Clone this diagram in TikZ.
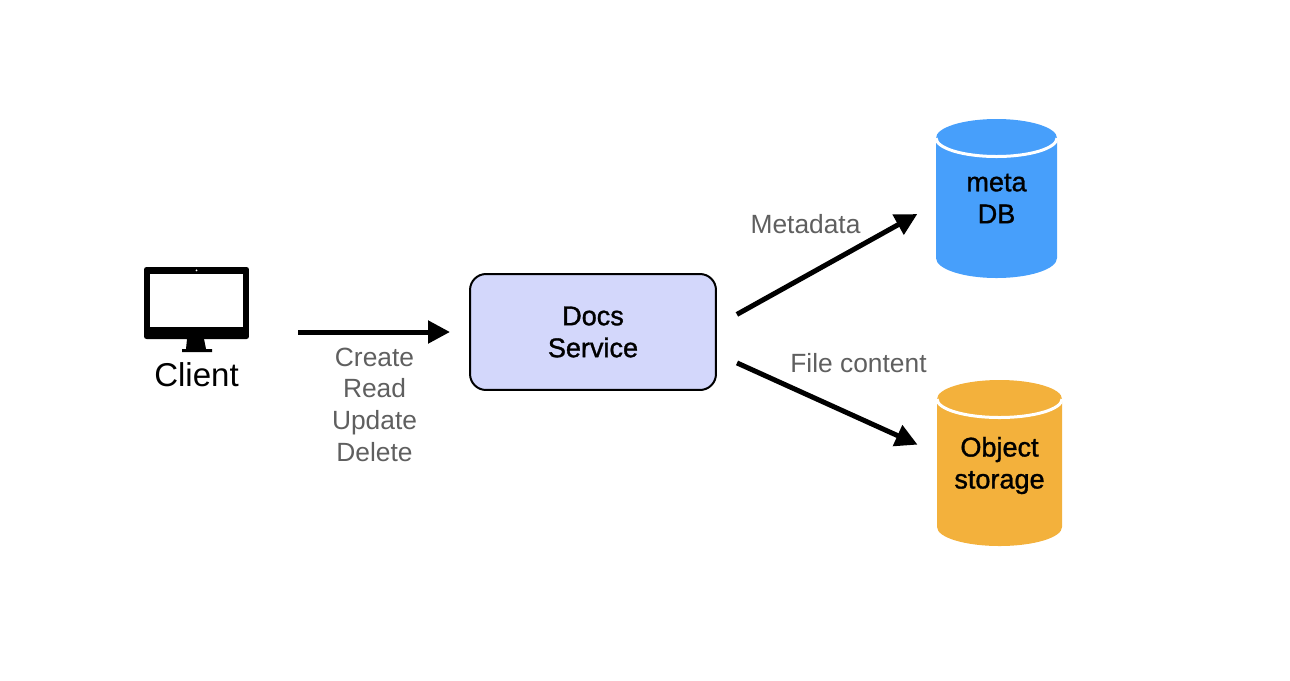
\documentclass[tikz,border=0pt]{standalone}
\usepackage{fontspec}
\setmainfont{Liberation Sans}
\newfontfamily\mediumfont[FakeBold=1.2]{Liberation Sans}
\usetikzlibrary{arrows.meta}

\definecolor{servicefill}{HTML}{D3D7FB}
\definecolor{metablue}{HTML}{479FFB}
\definecolor{storeorange}{HTML}{F3B13C}
\definecolor{labelgray}{HTML}{5F5F5F}

\tikzset{
    flow/.style={line width=0.1cm, -{Triangle[length=0.44cm,width=0.44cm]}},
    flowlabel/.style={text=labelgray, font=\fontsize{15}{18}\selectfont, align=center, inner sep=0pt},
    bodytext/.style={font=\mediumfont\fontsize{15.4}{18.2}\selectfont, align=center},
    rimline/.style={white, line width=0.06cm}
}

\begin{document}
\begin{tikzpicture}[x=0.02cm, y=0.02cm]

    \useasboundingbox (0,0) rectangle (1290,-680);

    % client
    \draw(196.5,-303) node[fill=black, rounded corners=0.05cm, minimum width=2.1cm, minimum height=1.44cm, inner sep=0pt] (monitor) {};
    \draw(196.5,-300.5) node[fill=white, minimum width=1.86cm, minimum height=1.06cm, inner sep=0pt] (screen) {};
    \fill[black] (187,-339) -- (204,-339) -- (206,-349) -- (212,-349) -- (212,-352) -- (182,-352) -- (182,-349) -- (186,-349) -- cycle;
    \fill[white] (196.5,-270.3) circle (1);
    \draw(196.5,-375) node[font=\fontsize{18.8}{22}\selectfont, inner sep=0pt] (client) {Client};

    % service
    \draw(593,-332) node[draw=black, fill=servicefill, line width=0.04cm, rounded corners=0.32cm, minimum width=4.92cm, minimum height=2.32cm, bodytext] (service) {Docs\\Service};

    % stores
    \fill[metablue] (936,-138) arc[start angle=180, end angle=0, x radius=60.5, y radius=19] -- (1057,-258) arc[start angle=0, end angle=-180, x radius=60.5, y radius=20] -- cycle;
    \draw[rimline] (936,-138) arc[start angle=180, end angle=360, x radius=60.5, y radius=18.5];
    \fill[storeorange] (937,-399) arc[start angle=180, end angle=0, x radius=62.5, y radius=19] -- (1062,-527) arc[start angle=0, end angle=-180, x radius=62.5, y radius=19] -- cycle;
    \draw[rimline] (937,-399) arc[start angle=180, end angle=360, x radius=62.5, y radius=18.5];
    \draw(996.5,-198.5) node[minimum width=2.42cm, minimum height=3.18cm, inner sep=0pt, bodytext] (meta) {meta\\DB};
    \draw(999.5,-465.5) node[minimum width=2.5cm, minimum height=3.3cm, inner sep=0pt, bodytext] (store) {Object\\storage};

    % arrows
    \draw[flow, shorten <=0.98cm, shorten >=0.38cm] (monitor.east |- service.west) -- (service.west);
    \draw[flow, shorten <=0.456cm, shorten >=0.42cm] (service.3.2) -- (meta.185.7);
    \draw[flow, shorten <=0.44cm, shorten >=0.42cm] (service.-10) -- (store.169.6);

    % labels
    \draw(374.5,-404.5) node[flowlabel] (crud) {Create\\Read\\Update\\Delete};
    \draw(805.5,-224) node[flowlabel] (metalabel) {Metadata};
    \draw(858.5,-363) node[flowlabel] (filelabel) {File content};

\end{tikzpicture}
\end{document}
